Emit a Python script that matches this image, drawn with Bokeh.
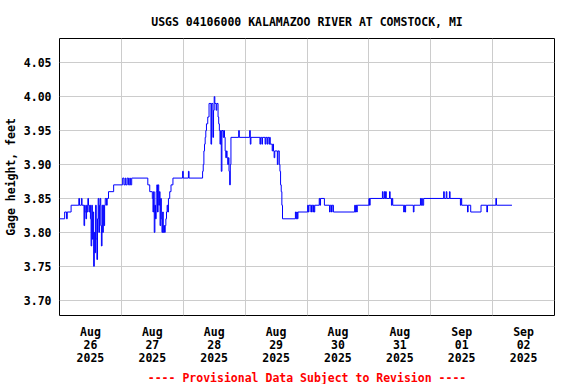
import pandas as pd
from bokeh.plotting import figure
from bokeh.models import FixedTicker, DatetimeTickFormatter, Range1d, NumeralTickFormatter, Title
from bokeh.embed import file_html
from bokeh.resources import INLINE

YEAR = "2025"
title_text = "USGS 04106000 KALAMAZOO RIVER AT COMSTOCK, MI"
ylabel_text = "Gage height, feet"
note_text = "---- Provisional Data Subject to Revision ----"

# observation times (2025, local) and gage height values (feet), step changes
times = [
    "08-26 00:00", "08-26 02:00", "08-26 02:45", "08-26 03:00", "08-26 04:30", "08-26 07:30",
    "08-26 07:45", "08-26 08:30", "08-26 08:45", "08-26 09:30", "08-26 09:45", "08-26 10:00",
    "08-26 10:15", "08-26 10:30", "08-26 10:45", "08-26 11:00", "08-26 11:15", "08-26 11:30",
    "08-26 11:45", "08-26 12:00", "08-26 12:15", "08-26 12:30", "08-26 12:45", "08-26 13:00",
    "08-26 13:15", "08-26 13:30", "08-26 13:45", "08-26 14:00", "08-26 14:15", "08-26 14:30",
    "08-26 14:45", "08-26 15:00", "08-26 15:15", "08-26 15:30", "08-26 15:45", "08-26 16:00",
    "08-26 16:15", "08-26 16:30", "08-26 16:45", "08-26 17:00", "08-26 17:15", "08-26 17:30",
    "08-26 17:45", "08-26 18:15", "08-26 18:30", "08-26 19:00", "08-26 21:00",
    "08-27 00:30", "08-27 01:00", "08-27 01:30", "08-27 01:45", "08-27 02:15", "08-27 02:45",
    "08-27 03:15", "08-27 03:30", "08-27 04:00", "08-27 10:15", "08-27 11:00", "08-27 12:00",
    "08-27 12:15", "08-27 12:30", "08-27 12:45", "08-27 13:00", "08-27 13:15", "08-27 13:30",
    "08-27 13:45", "08-27 14:00", "08-27 14:15", "08-27 14:30", "08-27 14:45", "08-27 15:00",
    "08-27 15:15", "08-27 15:30", "08-27 15:45", "08-27 16:00", "08-27 16:15", "08-27 16:30",
    "08-27 16:45", "08-27 17:00", "08-27 17:15", "08-27 17:30", "08-27 17:45", "08-27 18:00",
    "08-27 18:15", "08-27 18:45", "08-27 19:15", "08-27 20:00", "08-27 23:45",
    "08-28 00:00", "08-28 02:00", "08-28 02:15", "08-28 07:30", "08-28 07:45", "08-28 08:00",
    "08-28 08:15", "08-28 08:30", "08-28 08:45", "08-28 09:00", "08-28 09:30", "08-28 10:00",
    "08-28 10:45", "08-28 11:00", "08-28 11:30", "08-28 11:45", "08-28 12:00", "08-28 12:15",
    "08-28 12:45", "08-28 13:00", "08-28 13:30", "08-28 13:45", "08-28 14:00", "08-28 14:15",
    "08-28 14:30", "08-28 14:45", "08-28 15:00", "08-28 15:30", "08-28 15:45", "08-28 16:00",
    "08-28 16:15", "08-28 16:30", "08-28 16:45", "08-28 17:00", "08-28 17:15", "08-28 17:30",
    "08-28 17:45", "08-28 18:00", "08-28 18:15", "08-28 18:30", "08-28 21:30", "08-28 21:45",
    "08-29 01:45", "08-29 02:00", "08-29 02:15", "08-29 05:45", "08-29 06:00", "08-29 06:30",
    "08-29 06:45", "08-29 07:45", "08-29 08:00", "08-29 08:30", "08-29 08:45", "08-29 09:15",
    "08-29 09:30", "08-29 09:45", "08-29 10:30", "08-29 10:45", "08-29 11:00", "08-29 11:15",
    "08-29 11:30", "08-29 12:30", "08-29 12:45", "08-29 13:15", "08-29 13:30", "08-29 13:45",
    "08-29 14:00", "08-29 14:15", "08-29 14:30", "08-29 19:30", "08-29 19:45", "08-29 20:00",
    "08-29 20:15", "08-29 20:30",
    "08-30 00:15", "08-30 00:30", "08-30 00:45", "08-30 01:30", "08-30 01:45", "08-30 02:15",
    "08-30 02:30", "08-30 02:45", "08-30 03:00", "08-30 04:45", "08-30 05:00", "08-30 05:15",
    "08-30 06:45", "08-30 08:45", "08-30 09:00", "08-30 09:30", "08-30 09:45", "08-30 10:15",
    "08-30 18:30", "08-30 18:45", "08-30 19:00", "08-30 19:15", "08-30 19:30",
    "08-31 00:00", "08-31 00:15", "08-31 00:30", "08-31 05:15", "08-31 05:30", "08-31 06:00",
    "08-31 06:15", "08-31 06:30", "08-31 06:45", "08-31 08:00", "08-31 08:15", "08-31 08:45",
    "08-31 09:00", "08-31 09:15", "08-31 13:30", "08-31 13:45", "08-31 14:00", "08-31 14:15",
    "08-31 17:15", "08-31 17:30", "08-31 20:00", "08-31 20:15", "08-31 20:30", "08-31 20:45",
    "08-31 21:15",
    "09-01 05:00", "09-01 05:15", "09-01 06:00", "09-01 06:15", "09-01 07:15", "09-01 07:30",
    "09-01 11:30", "09-01 11:45", "09-01 12:00", "09-01 14:15", "09-01 14:30", "09-01 15:30",
    "09-01 19:30", "09-01 21:45", "09-01 22:00",
    "09-02 01:15", "09-02 01:30", "09-02 07:30",
]
gage_ft = [
    3.82, 3.83, 3.82, 3.83, 3.84, 3.85,
    3.84, 3.85, 3.84, 3.81, 3.84, 3.83,
    3.82, 3.84, 3.83, 3.85, 3.84, 3.83,
    3.84, 3.82, 3.78, 3.84, 3.79, 3.83,
    3.75, 3.80, 3.77, 3.84, 3.79, 3.76,
    3.82, 3.85, 3.80, 3.84, 3.85, 3.81,
    3.78, 3.84, 3.80, 3.84, 3.81, 3.84,
    3.85, 3.84, 3.85, 3.86, 3.87,
    3.88, 3.87, 3.88, 3.87, 3.88, 3.87,
    3.88, 3.87, 3.88, 3.87, 3.86, 3.85,
    3.83, 3.86, 3.80, 3.84, 3.82, 3.86,
    3.87, 3.83, 3.87, 3.84, 3.86, 3.81,
    3.85, 3.82, 3.80, 3.83, 3.80, 3.81,
    3.80, 3.81, 3.82, 3.83, 3.84, 3.83,
    3.85, 3.86, 3.87, 3.88, 3.89,
    3.88, 3.89, 3.88, 3.89, 3.90, 3.92,
    3.93, 3.94, 3.95, 3.96, 3.97, 3.99,
    3.93, 3.99, 3.94, 3.98, 4.00, 3.99,
    3.98, 3.99, 3.97, 3.96, 3.95, 3.93,
    3.95, 3.89, 3.95, 3.94, 3.95, 3.94,
    3.92, 3.91, 3.92, 3.91, 3.90, 3.91,
    3.89, 3.87, 3.90, 3.94, 3.95, 3.94,
    3.95, 3.93, 3.94, 3.93, 3.94, 3.93,
    3.94, 3.93, 3.94, 3.93, 3.94, 3.93,
    3.94, 3.93, 3.92, 3.93, 3.92, 3.91,
    3.92, 3.90, 3.92, 3.90, 3.89, 3.87,
    3.86, 3.84, 3.82, 3.83, 3.82, 3.83,
    3.82, 3.83,
    3.84, 3.83, 3.84, 3.83, 3.84, 3.83,
    3.84, 3.83, 3.84, 3.85, 3.84, 3.85,
    3.84, 3.83, 3.84, 3.83, 3.84, 3.83,
    3.84, 3.83, 3.84, 3.83, 3.84,
    3.85, 3.84, 3.85, 3.86, 3.85, 3.86,
    3.85, 3.86, 3.85, 3.86, 3.85, 3.84,
    3.85, 3.84, 3.83, 3.84, 3.83, 3.84,
    3.83, 3.84, 3.85, 3.84, 3.85, 3.84,
    3.85,
    3.86, 3.85, 3.86, 3.85, 3.86, 3.85,
    3.84, 3.85, 3.84, 3.83, 3.84, 3.83,
    3.84, 3.83, 3.84,
    3.85, 3.84, 3.84,
]

day_ticks = ["08-26", "08-27", "08-28", "08-29", "08-30", "08-31", "09-01", "09-02"]
y_ticks = [3.70, 3.75, 3.80, 3.85, 3.90, 3.95, 4.00, 4.05]
x_start, x_end = "08-26", "09-03"
y_min, y_max = 3.6775, 4.0857

FONT = "DejaVu Sans Mono"
FS = "11.5px"

t = pd.to_datetime([f"{YEAR}-{s}" for s in times])
noon_ticks = [pd.Timestamp(f"{YEAR}-{d} 12:00").value / 1e6 for d in day_ticks]
midnight_grid = [pd.Timestamp(f"{YEAR}-{d}").value / 1e6 for d in day_ticks[1:]]

p = figure(width=576, height=384, x_axis_type="datetime",
           x_range=Range1d(pd.Timestamp(f"{YEAR}-{x_start}"), pd.Timestamp(f"{YEAR}-{x_end}")),
           y_range=Range1d(y_min, y_max),
           output_backend="svg", toolbar_location=None,
           min_border_left=58, min_border_right=22, min_border_top=38, min_border_bottom=68)
p.background_fill_color = "white"
p.border_fill_color = "white"
p.outline_line_color = "black"
p.outline_line_width = 1
p.outline_line_alpha = 1

p.title.text = title_text
p.title.align = "center"
p.title.text_font = FONT
p.title.text_font_size = FS
p.title.text_font_style = "bold"
p.title.text_color = "black"
p.title.standoff = 20

p.step(t, gage_ft, mode="after", line_color="#0000ff", line_width=1)

p.xaxis.ticker = FixedTicker(ticks=noon_ticks)
p.xgrid.ticker = FixedTicker(ticks=midnight_grid)
fmt = "%b\n%d\n%Y"
p.xaxis.formatter = DatetimeTickFormatter(
    microseconds=fmt, milliseconds=fmt, seconds=fmt, minsec=fmt, minutes=fmt,
    hourmin=fmt, hours=fmt, days=fmt, months=fmt, years=fmt, strip_leading_zeros=False)
p.yaxis.ticker = FixedTicker(ticks=y_ticks)
p.yaxis.formatter = NumeralTickFormatter(format="0.00")

for ax in p.axis:
    ax.axis_line_color = None
    ax.major_tick_line_color = None
    ax.minor_tick_line_color = None
    ax.major_tick_out = 0
    ax.major_tick_in = 0
    ax.major_label_text_font = FONT
    ax.major_label_text_font_size = FS
    ax.major_label_text_font_style = "bold"
    ax.major_label_text_color = "black"
p.xaxis.major_label_standoff = 9
p.xaxis.major_label_text_line_height = 0.95
p.yaxis.major_label_standoff = 8
p.yaxis.axis_label = ylabel_text
p.yaxis.axis_label_text_font = FONT
p.yaxis.axis_label_text_font_size = FS
p.yaxis.axis_label_text_font_style = "bold"
p.yaxis.axis_label_text_color = "black"
p.yaxis.axis_label_standoff = 3

p.grid.grid_line_color = "#cccccc"
p.grid.grid_line_width = 1

p.add_layout(Title(text=note_text, align="center", text_font=FONT, text_font_size=FS,
                   text_font_style="bold", text_color="#ff0000", standoff=0), "below")

open("out.html", "w").write(file_html(p, INLINE))
